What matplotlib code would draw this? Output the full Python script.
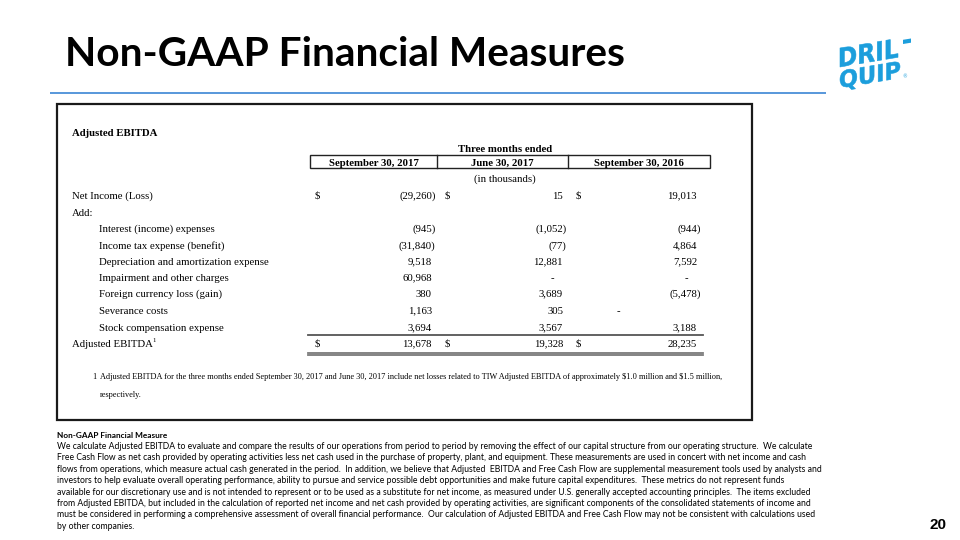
import math
import matplotlib
matplotlib.use("Agg")
import matplotlib.pyplot as plt
from matplotlib.patches import Rectangle, PathPatch, Polygon
from matplotlib.textpath import TextPath
from matplotlib.font_manager import FontProperties
from matplotlib.transforms import Affine2D

plt.rcParams["text.parse_math"] = False

# ---------------- content ----------------
title = "Non-GAAP Financial Measures"
table_title = "Adjusted EBITDA"
period_header = "Three months ended"
units_note = "(in thousands)"
columns = ["September 30, 2017", "June 30, 2017", "September 30, 2016"]
row_labels = ["Net Income (Loss)", "Add:", "Interest (income) expenses",
              "Income tax expense (benefit)", "Depreciation and amortization expense",
              "Impairment and other charges", "Foreign currency loss (gain)",
              "Severance costs", "Stock compensation expense", "Adjusted EBITDA"]
row_indent = [0, 0, 1, 1, 1, 1, 1, 1, 1, 0]
sep_2017 = [-29260, None, -945, -31840, 9518, 60968, 380, 1163, 3694, 13678]
jun_2017 = [15, None, -1052, -77, 12881, 0, 3689, 305, 3567, 19328]
sep_2016 = [19013, None, -944, 4864, 7592, 0, -5478, 0, 3188, 28235]
dollar_rows = [0, 9]
footnote_lines = ["Adjusted EBITDA for the three months ended September 30, 2017 and June 30, 2017 include net losses related to TIW Adjusted EBITDA of approximately $1.0 million and $1.5 million,",
                  "respectively."]
note_heading = "Non-GAAP Financial Measure"
note_lines = [
    "We calculate Adjusted EBITDA to evaluate and compare the results of our operations from period to period by removing the effect of our capital structure from our operating structure.  We calculate",
    "Free Cash Flow as net cash provided by operating activities less net cash used in the purchase of property, plant, and equipment. These measurements are used in concert with net income and cash",
    "flows from operations, which measure actual cash generated in the period.  In addition, we believe that Adjusted  EBITDA and Free Cash Flow are supplemental measurement tools used by analysts and",
    "investors to help evaluate overall operating performance, ability to pursue and service possible debt opportunities and make future capital expenditures.  These metrics do not represent funds",
    "available for our discretionary use and is not intended to represent or to be used as a substitute for net income, as measured under U.S. generally accepted accounting principles.  The items excluded",
    "from Adjusted EBITDA, but included in the calculation of reported net income and net cash provided by operating activities, are significant components of the consolidated statements of income and",
    "must be considered in performing a comprehensive assessment of overall financial performance.  Our calculation of Adjusted EBITDA and Free Cash Flow may not be consistent with calculations used",
    "by other companies.",
]
page_number = "20"
logo_words = ["DRIL", "QUIP"]

# ---------------- layout ----------------
fig = plt.figure(figsize=(9.6, 5.4), dpi=100)
ax = fig.add_axes([0, 0, 1, 1])
ax.set_xlim(0, 960)
ax.set_ylim(540, 0)
ax.axis("off")
renderer = fig.canvas.get_renderer()


def fit(t, width):
    bb = t.get_window_extent(renderer)
    t.set_fontsize(t.get_fontsize() * width / bb.width)
    return t.get_fontsize()


def tx(x, y, s, **kw):
    """Baseline-anchored text; compensates Agg's bitmap rounding so that
    baselines of different strings land on the same pixel row."""
    target = round(y)
    t = ax.text(x, target, s, va="baseline", **kw)
    _, h, d = renderer.get_text_width_height_descent(s, t.get_fontproperties(), ismath=False)
    t.set_y(target + math.floor(h + 1e-9) - math.floor(h - d + 1e-9) - d)
    return t


SERIF = ["Liberation Serif", "DejaVu Serif"]
SANS = ["Lato", "DejaVu Sans"]
BL = 4  # centre-to-baseline offset for the small table text

# Title
t = ax.text(65, 66, title, fontsize=30, fontweight="bold", family=SANS,
            va="baseline", ha="left", color="black")
fit(t, 560)

# blue rule
ax.plot([50, 826], [93, 93], color="#4a8fd8", lw=1.3, solid_capstyle="butt")

# logo
BLUE = "#1c9edc"
fp = FontProperties(family="DejaVu Sans", weight="bold")


def logo_word(text, x0, y_base, width, height, slope):
    path = TextPath((0, 0), text, size=100, prop=fp)
    ext = path.get_extents()
    sx = width / ext.width
    sy = height / 72.9
    tr = (Affine2D().translate(-ext.x0, 0).scale(sx, sy)
          .skew_deg(0, slope).scale(1, -1).translate(x0, y_base))
    ax.add_patch(PathPatch(tr.transform_path(path), fc=BLUE, ec=BLUE, lw=0.4))


logo_word(logo_words[0], 840, 67, 58, 19, 9.5)
logo_word(logo_words[1], 840, 88, 60, 17, 9.5)
ax.add_patch(Polygon([[903, 44], [911, 42.7], [911, 38.5], [903, 39.8]],
                     closed=True, fc=BLUE, ec="none"))
ax.text(905, 77, "®", fontsize=3.5, color=BLUE, ha="center", va="center")

# outer box
ax.add_patch(Rectangle((57, 104), 695, 316, fill=False, lw=1.6, ec="#1a1a1a"))

# label font size
probe = ax.text(99, 261, row_labels[4], fontsize=8, family=SERIF, va="baseline")
fs = fit(probe, 169)
probe.remove()

# table title
tx(72, 132 + BL, table_title, fontsize=fs, fontweight="bold", family=SERIF, ha="left")

# header
tx(505, 148 + BL, period_header, fontsize=fs, fontweight="bold", family=SERIF, ha="center")
col_bounds = [310, 437, 568, 710]
ax.add_patch(Rectangle((col_bounds[0], 155), col_bounds[-1] - col_bounds[0], 13,
                       fill=False, lw=1.0, ec="#222"))
for xb in col_bounds[1:-1]:
    ax.plot([xb, xb], [155, 168], color="#222", lw=1.0)
for i, c in enumerate(columns):
    tx((col_bounds[i] + col_bounds[i + 1]) / 2, 162 + BL, c, fontsize=fs,
       fontweight="bold", family=SERIF, ha="center")
tx(505, 178 + BL, units_note, fontsize=fs, family=SERIF, ha="center")

# rows
row_y = [195, 212, 228, 245, 261, 277, 293, 310, 327, 343]
label_x = [72, 99]
for i, lab in enumerate(row_labels):
    tl = tx(label_x[row_indent[i]], row_y[i] + BL, lab, fontsize=fs, family=SERIF, ha="left")
    if i == len(row_labels) - 1:
        bb = tl.get_window_extent(renderer)
        tx(bb.x1 - 0.5, row_y[i] + BL - 4.5, "1", fontsize=fs * 0.62, family=SERIF, ha="left")

value_right = [432, 563, 697]
dash_x = [None, 552, 686]
misplaced_dash = {(7, 2): 618}
dollar_x = [315, 445, 576]


def fmt(v):
    if v is None:
        return ""
    if v == 0:
        return "-"
    if v < 0:
        return "({:,})".format(-v)
    return "{:,}".format(v)


for ci, series in enumerate([sep_2017, jun_2017, sep_2016]):
    for ri, v in enumerate(series):
        s = fmt(v)
        if not s:
            continue
        if s == "-":
            x = misplaced_dash.get((ri, ci), dash_x[ci])
            tx(x, row_y[ri] + BL, s, fontsize=fs, family=SERIF, ha="center")
        else:
            x = value_right[ci] + (3.5 if v < 0 else 0)
            tx(x, row_y[ri] + BL, s, fontsize=fs, family=SERIF, ha="right")
    for ri in dollar_rows:
        tx(dollar_x[ci], row_y[ri] + BL, "$", fontsize=fs, family=SERIF, ha="left")

# total rules
ax.plot([308, 703], [334.5, 334.5], color="#555555", lw=1.3)
ax.plot([308, 703], [352.5, 352.5], color="#7a7a7a", lw=1.3)
ax.plot([308, 703], [355, 355], color="#7a7a7a", lw=1.3)

# footnote
fn = ax.text(100, 379, footnote_lines[0], fontsize=5.5, family=SERIF, ha="left", va="baseline")
ffs = fit(fn, 612)
fn.remove()
tx(100, 379, footnote_lines[0], fontsize=ffs, family=SERIF, ha="left")
tx(92, 379, "1", fontsize=ffs, family=SERIF, ha="left")
tx(100, 397, footnote_lines[1], fontsize=ffs, family=SERIF, ha="left")

# notes paragraph
p0 = ax.text(57, 446.5, note_lines[0], fontsize=7, family=SANS, ha="left", va="center")
pfs = fit(p0, 755)
ax.text(57, 435.5, note_heading, fontsize=pfs * 0.95, fontweight="bold", family=SANS,
        ha="left", va="center")
for i, line in enumerate(note_lines[1:], start=1):
    ax.text(57, 446.5 + i * 11.4, line, fontsize=pfs, family=SANS, ha="left", va="center")

# page number
ax.text(946, 525, page_number, fontsize=11, fontweight="bold",
        family=["Liberation Sans", "DejaVu Sans"], ha="right", va="center")

fig.savefig("out.png", dpi=100)
